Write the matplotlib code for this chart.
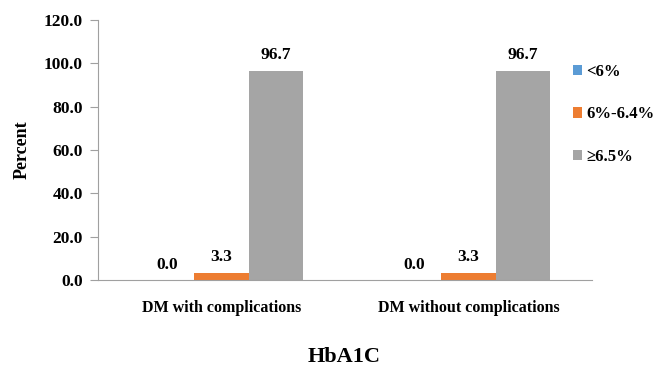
import matplotlib.pyplot as plt
import numpy as np

plt.rcParams['font.family'] = ['Liberation Serif', 'DejaVu Serif']
plt.rcParams['font.weight'] = 'bold'

groups = ["DM with complications", "DM without complications"]
series = ["<6%", "6%-6.4%", "\u22656.5%"]
values = [
    [0.0, 0.0],
    [3.3, 3.3],
    [96.7, 96.7],
]
colors = ["#5B9BD5", "#ED7D31", "#A5A5A5"]

fig = plt.figure(figsize=(6.62, 3.72), dpi=100)
ax = fig.add_axes([0.148, 0.247, 0.746, 0.699])

x = np.arange(len(groups))
w = 0.22
bars = []
for i, (name, vals, c) in enumerate(zip(series, values, colors)):
    b = ax.bar(x + (i - 1) * w, vals, w, color=c, label=name)
    bars.append(b)
    for xi, v in zip(x, vals):
        ax.text(xi + (i - 1) * w, v + 3.5, f"{v:.1f}", ha="center", va="bottom",
                fontsize=12.5, fontweight="bold")

ax.set_xlim(-0.5, 1.5)
ax.set_ylim(0, 120)
yt = np.arange(0, 121, 20)
ax.set_yticks(yt)
ax.set_yticklabels([f"{t:.1f}" for t in yt], fontsize=12.5, fontweight="bold")
ax.set_xticks(x)
ax.set_xticklabels(groups, fontsize=11.5, fontweight="bold")
ax.tick_params(axis="x", length=0, pad=14)
ax.tick_params(axis="y", length=6, color="#a0a0a0", pad=5)
for s in ["top", "right"]:
    ax.spines[s].set_visible(False)
for s in ["left", "bottom"]:
    ax.spines[s].set_color("#a0a0a0")
ax.set_ylabel("Percent", fontsize=13, fontweight="bold", labelpad=9)

fig.text(0.52, 0.04, "HbA1C", ha="center", va="center", fontsize=16, fontweight="bold")

fig.legend(handles=bars, labels=series, loc="upper left", bbox_to_anchor=(0.848, 0.86),
           frameon=False, fontsize=12, labelspacing=1.6, handlelength=0.55, handleheight=0.55,
           handletextpad=0.25, borderpad=0.2)

fig.savefig("out.png", dpi=100)
